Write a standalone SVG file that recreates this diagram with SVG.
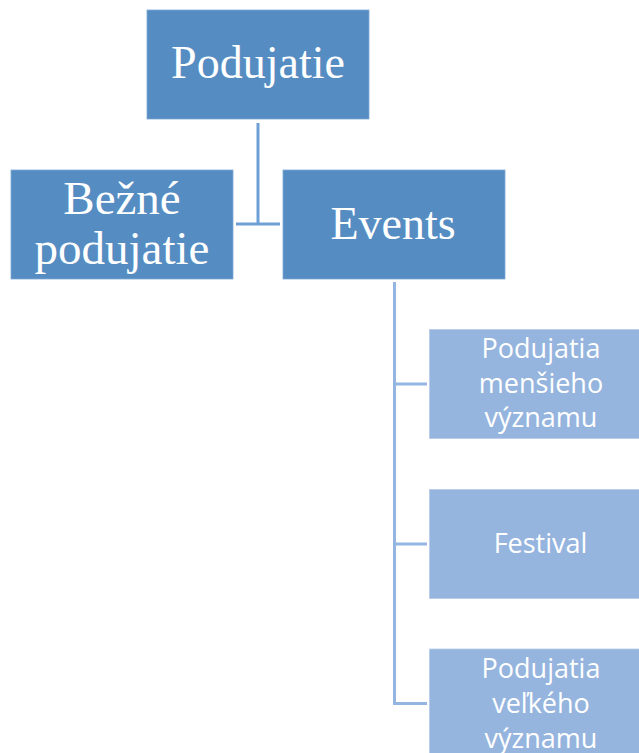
<svg xmlns="http://www.w3.org/2000/svg" width="639" height="753" viewBox="0 0 639 753">
<style>
.dark{fill:#558dc3;stroke:#7ea9d4;stroke-width:0.8}
.light{fill:#95b4de;stroke:#b5cbe9;stroke-width:0.8}
.serif{font-family:"Liberation Serif","Times New Roman",serif;fill:#ffffff;text-anchor:middle}
.sans{font-family:"Open Sans","Noto Sans",sans-serif;font-size:27px;fill:#ffffff;text-anchor:middle}
.c1{stroke:#6ea0d8;stroke-width:3;fill:none}
.c2{stroke:#94b5df;stroke-width:3;fill:none}
</style>
<rect width="639" height="753" fill="#ffffff"/>
<g id="connectors">
<path class="c1" d="M258 123 V224 M236 224 H280"/>
<path class="c2" d="M394.5 282 V703.5 M394.5 384 H427 M394.5 544 H427 M393 703.5 H427"/>
</g>
<g id="node-podujatie">
<rect class="dark" x="147" y="10" width="222" height="109"/>
<text class="serif" x="258" y="77.5" font-size="46">Podujatie</text>
</g>
<g id="node-bezne">
<rect class="dark" x="11" y="170" width="222" height="109"/>
<text class="serif" x="122" y="214" font-size="47">Bežné</text>
<text class="serif" x="122" y="263.5" font-size="47">podujatie</text>
</g>
<g id="node-events">
<rect class="dark" x="283" y="170" width="222" height="109"/>
<text class="serif" x="393" y="239" font-size="46">Events</text>
</g>
<g id="node-mensieho">
<rect class="light" x="429.5" y="329.5" width="222" height="109"/>
<text class="sans" x="541" y="358">Podujatia</text>
<text class="sans" x="541" y="393">menšieho</text>
<text class="sans" x="541" y="427">významu</text>
</g>
<g id="node-festival">
<rect class="light" x="429.5" y="489.5" width="222" height="109"/>
<text class="sans" x="540.5" y="553">Festival</text>
</g>
<g id="node-velkeho">
<rect class="light" x="429.5" y="649" width="222" height="109"/>
<text class="sans" x="541" y="678">Podujatia</text>
<text class="sans" x="541" y="713">veľkého</text>
<text class="sans" x="541" y="747.5">významu</text>
</g>
</svg>
